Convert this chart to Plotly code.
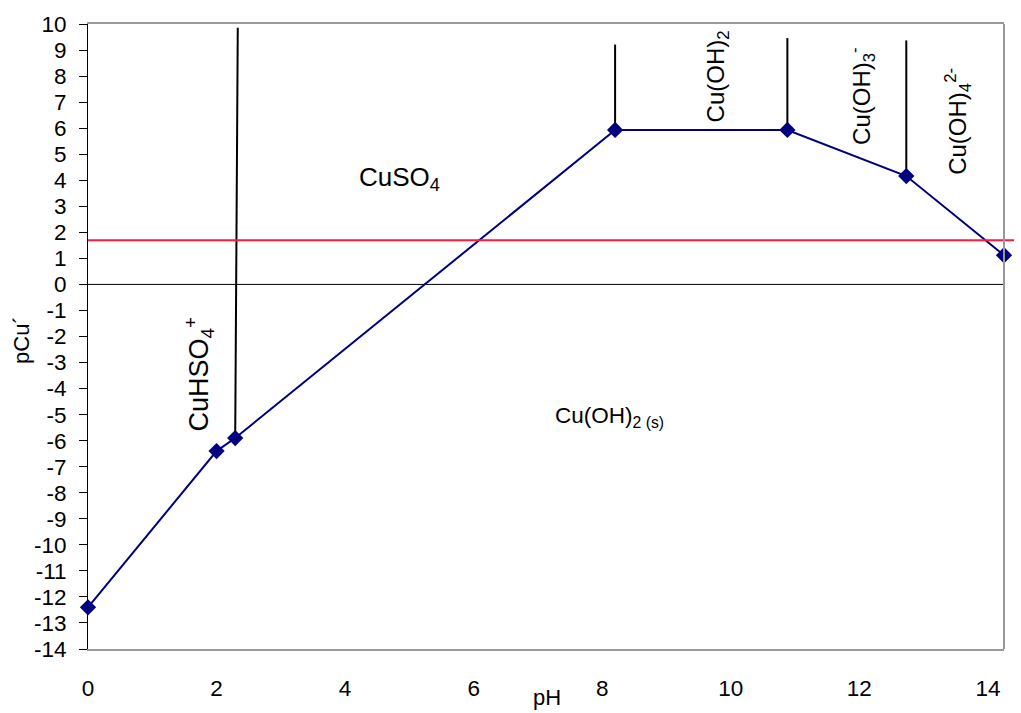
import plotly.graph_objects as go

# Predominance boundary for copper(II) in sulfate / hydroxide medium
ph_points = [0, 2.0, 2.29, 8.2, 10.88, 12.73, 14.25]
pcu_points = [-12.4, -6.4, -5.9, 5.93, 5.93, 4.16, 1.12]

# Vertical separators between soluble species (bottom -> top)
sep_ph_bottom = [2.29, 8.2, 10.88, 12.73]
sep_ph_top = [2.33, 8.2, 10.88, 12.73]
sep_pcu_bottom = [-5.9, 5.93, 5.93, 4.16]
sep_pcu_top = [9.86, 9.21, 9.46, 9.37]

# Imposed pCu' level
pcu_level = 1.70

# Species labels
species_text = [
    "CuSO<sub>4</sub>",
    "CuHSO<sub>4</sub><sup>+</sup>",
    "Cu(OH)<sub>2 (s)</sub>",
    "Cu(OH)<sub>2</sub>",
    "Cu(OH)<sub>3</sub><sup>-</sup>",
    "Cu(OH)<sub>4</sub><sup>2-</sup>",
]
species_ph = [4.85, 1.73, 8.12, 9.79, 12.03, 13.53]
species_pcu = [4.05, -3.45, -5.1, 8.0, 7.25, 6.27]
species_angle = [0, -90, 0, -90, -90, -90]
species_size = [26, 27, 22.5, 24, 24, 24]

x_ticks = [0, 2, 4, 6, 8, 10, 12, 14]
y_ticks = list(range(-14, 11))

FONT = "Arial, Liberation Sans, sans-serif"

fig = go.Figure()

for xb, xt, yb, yt in zip(sep_ph_bottom, sep_ph_top, sep_pcu_bottom, sep_pcu_top):
    fig.add_trace(go.Scatter(
        x=[xb, xt], y=[yb, yt], mode="lines",
        line=dict(color="black", width=2), hoverinfo="skip", showlegend=False,
    ))

fig.add_trace(go.Scatter(
    x=ph_points, y=pcu_points, mode="lines+markers",
    line=dict(color="#000080", width=2),
    marker=dict(symbol="diamond", size=12.5, color="#000080"),
    cliponaxis=False, showlegend=False,
))

shapes = [
    # zero reference line
    dict(type="line", xref="paper", x0=0, x1=1, yref="y", y0=0, y1=0,
         line=dict(color="black", width=1), layer="below"),
    # imposed pCu' level
    dict(type="line", xref="paper", x0=0, x1=1.011, yref="y", y0=pcu_level, y1=pcu_level,
         line=dict(color="#FF1A3C", width=2)),
    # right frame edge
    dict(type="line", xref="paper", x0=1, x1=1, yref="paper", y0=0, y1=1,
         line=dict(color="#999999", width=2)),
]

annotations = []
for t, xv, yv, ang, sz in zip(species_text, species_ph, species_pcu, species_angle, species_size):
    annotations.append(dict(
        x=xv, y=yv, xref="x", yref="y", text=t, textangle=ang, showarrow=False,
        xanchor="center", yanchor="middle", font=dict(family=FONT, size=sz, color="black"),
    ))

annotations.append(dict(
    x=(547 - 88) / 916, y=-0.077, xref="paper", yref="paper", text="pH", showarrow=False,
    xanchor="center", yanchor="middle", font=dict(family=FONT, size=22, color="black"),
))
annotations.append(dict(
    x=-0.072, y=(656 - 341) / 637, xref="paper", yref="paper", text="pCu´", textangle=-90,
    showarrow=False, xanchor="center", yanchor="middle",
    font=dict(family=FONT, size=22, color="black"),
))

fig.update_layout(
    width=1021, height=713,
    margin=dict(l=88, r=17, t=19, b=57, pad=0),
    paper_bgcolor="white", plot_bgcolor="white",
    font=dict(family=FONT, size=22, color="black"),
    shapes=shapes, annotations=annotations,
    showlegend=False,
    xaxis=dict(
        range=[0, 14.25], tickvals=x_ticks, ticktext=[str(v) for v in x_ticks],
        showgrid=False, zeroline=False, showline=True, mirror=True,
        linecolor="#999999", linewidth=2, ticks="", ticklabelstandoff=18,
        tickfont=dict(family=FONT, size=22.5),
    ),
    yaxis=dict(
        range=[-14, 10], tickvals=y_ticks, ticktext=[str(v) for v in y_ticks],
        showgrid=False, zeroline=False, showline=True, linecolor="black", linewidth=1,
        ticks="outside", ticklen=8, tickcolor="black", tickwidth=1,
        ticklabelstandoff=8, tickfont=dict(family=FONT, size=22.5),
    ),
)

fig.write_html("out.html")
